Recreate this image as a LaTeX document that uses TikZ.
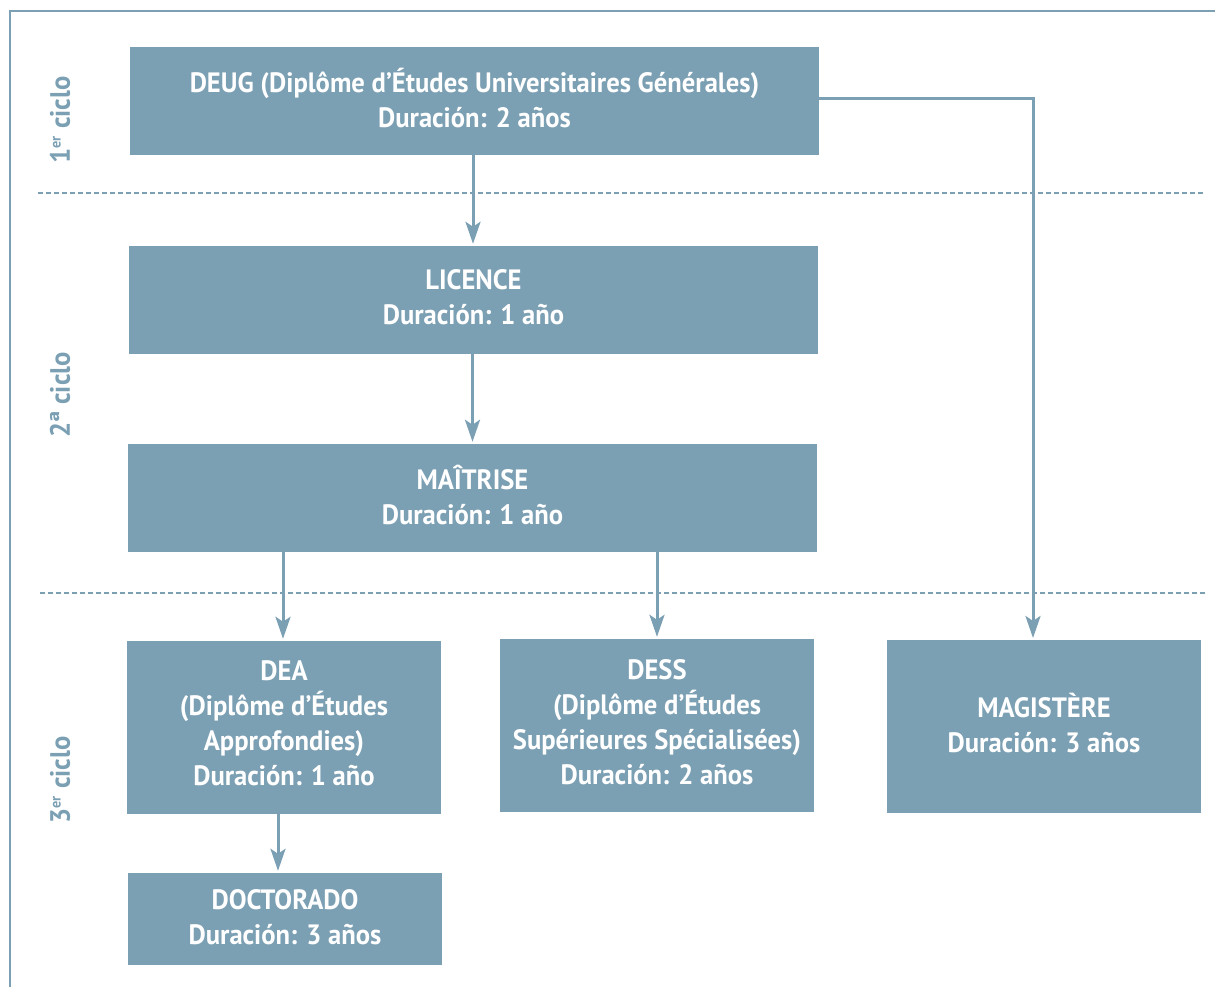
\documentclass[tikz,border=0pt]{standalone}
\usepackage{fontspec}
\setmainfont[FakeStretch=0.95]{PT Sans}
\usetikzlibrary{arrows.meta}
\definecolor{bx}{RGB}{123,159,179}
\begin{document}
\begin{tikzpicture}[x=1pt,y=-1pt,
  box/.style={fill=bx, inner sep=0pt},
  txt/.style={text=white, inner sep=0pt, font=\bfseries\fontsize{28}{35}\selectfont, align=center},
  arr/.style={draw=bx, line width=3pt, shorten >=2pt, -{Stealth[length=22pt,width=15pt,inset=5pt]}},
  lab/.style={text=bx, font=\bfseries\fontsize{28}{30}\selectfont, rotate=90},
  sep/.style={draw=bx, line width=1.2pt, dash pattern=on 5pt off 3pt}]
\useasboundingbox (0,0) rectangle (1215,987);
\draw[bx, line width=2pt] (10,987) -- (10,11) -- (1215,11);
\draw[sep] (38,193) -- (1205,193);
\draw[sep] (40,593) -- (1207,593);

\node[box, minimum width=689pt, minimum height=108pt] (deug) at (474.5,101) {};
\node[box, minimum width=689pt, minimum height=108pt] (lic) at (473.5,300) {};
\node[box, minimum width=689pt, minimum height=108pt] (mai) at (472.5,498) {};
\node[box, minimum width=314pt, minimum height=173pt] (dea) at (284,727.5) {};
\node[box, minimum width=314pt, minimum height=173pt] (dess) at (657,725.5) {};
\node[box, minimum width=314pt, minimum height=173pt] (mag) at (1044,726.5) {};
\node[box, minimum width=314pt, minimum height=92pt] (doc) at (285,919) {};

\node[txt] (deugt) at ([yshift=3pt]deug.center)
  {DEUG (Diplôme d’Études Universitaires Générales)\\Duración: 2 años};
\node[txt] (lict) at ([yshift=3pt]lic.center) {LICENCE\\Duración: 1 año};
\node[txt] (mait) at ([yshift=3pt]mai.center) {MAÎTRISE\\Duración: 1 año};
\node[txt] (deat) at ([yshift=4pt]dea.center)
  {DEA\\(Diplôme d’Études\\Approfondies)\\Duración: 1 año};
\node[txt] (desst) at ([yshift=3pt]dess.center)
  {DESS\\(Diplôme d’Études\\Supérieures Spécialisées)\\Duración: 2 años};
\node[txt] (magt) at ([yshift=3pt]mag.center) {MAGISTÈRE\\Duración: 3 años};
\node[txt] (doct) at ([yshift=2pt]doc.center) {DOCTORADO\\Duración: 3 años};

\node[lab] (l1) at (60,120) {1\textsuperscript{\fontsize{15}{15}\selectfont er} ciclo};
\node[lab] (l2) at (60,395) {2ª ciclo};
\node[lab] (l3) at (60,780) {3\textsuperscript{\fontsize{15}{15}\selectfont er} ciclo};

\draw[arr] ([xshift=-1.5pt]deug.south) -- ([xshift=-0.5pt]lic.north);
\draw[arr] ([xshift=-1pt]lic.south) -- (mai.north);
\draw[arr] ([xshift=-1pt]dea.north |- mai.south) -- ([xshift=-1pt]dea.north);
\draw[arr] (dess.north |- mai.south) -- (dess.north);
\coordinate (magin) at (1033,640);
\draw[arr] ([yshift=2pt]deug.east) -| (magin);
\draw[arr] ([xshift=-6pt]dea.south) -- ([xshift=-7pt]doc.north);
\end{tikzpicture}
\end{document}
